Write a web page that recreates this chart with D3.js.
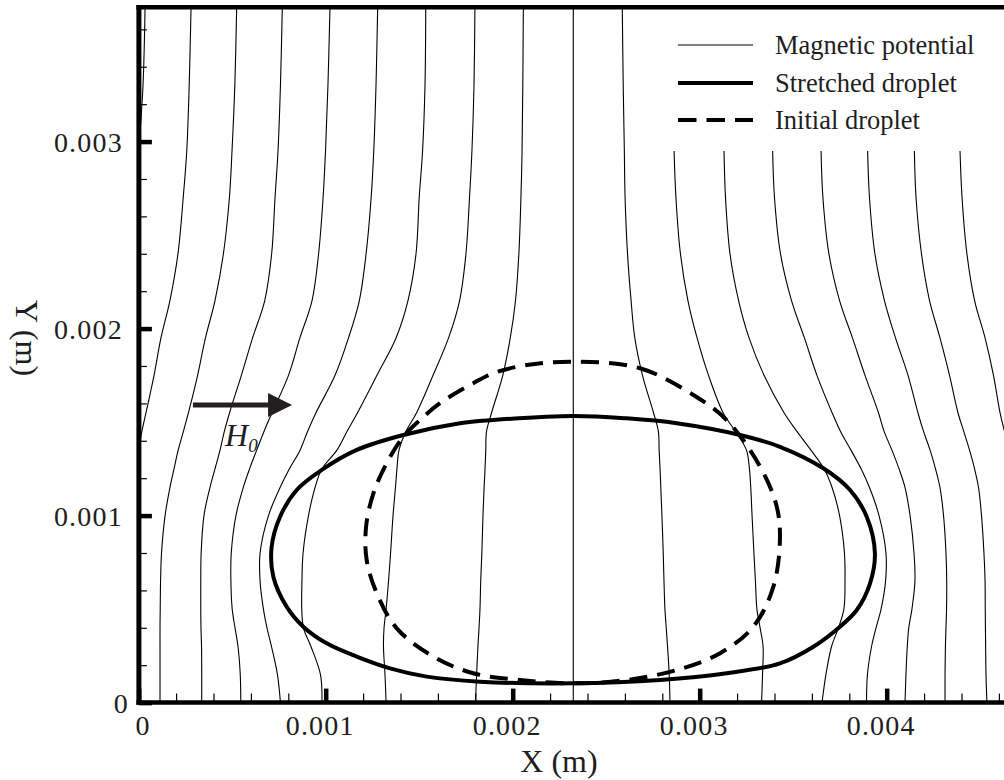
<!DOCTYPE html>
<html>
<head>
<meta charset="utf-8">
<script src="https://cdn.jsdelivr.net/npm/d3@7"></script>
<style>
  html, body { margin: 0; padding: 0; background: #fff; }
  svg { display: block; }
  text { font-family: "Liberation Serif", "Times New Roman", serif; fill: #1e1e1e; }
</style>
</head>
<body>
<svg id="chart" width="1004" height="780"></svg>
<script>
// Heights (m) at which each magnetic potential line is sampled
const levels = [0.00372, 0.0033, 0.00295, 0.0027, 0.0024, 0.00215, 0.00195, 0.00175,
  0.00155, 0.00145, 0.00135, 0.00125, 0.00115, 0.001, 0.0008, 0.00065, 0.0005,
  0.0004, 0.0003, 0.00015, 0];

// X position (m) of each potential line at the heights above (null = outside the plot)
const potentialLines = [
  [0.000034, 0.000023, 0, null, null, null, null, null, null, null, null, null, null, null, null, null, null, null, null, null, null],
  [0.000280, 0.000270, 0.000257, 0.000238, 0.000210, 0.000167, 0.000119, 0.000082, 0.000039, 0.000017, 0, null, null, null, null, null, null, null, null, null, null],
  [0.000524, 0.000514, 0.000499, 0.000485, 0.000453, 0.000408, 0.000357, 0.000315, 0.000266, 0.000239, 0.000211, 0.000189, 0.000167, 0.000141, 0.000122, 0.000117, 0.000115, 0.000114, 0.000114, 0.000114, 0.000114],
  [0.000768, 0.000758, 0.000745, 0.000729, 0.000711, 0.000674, 0.000609, 0.000549, 0.000486, 0.000458, 0.000435, 0.000408, 0.000381, 0.000349, 0.000334, 0.000332, 0.000332, 0.000333, 0.000336, 0.000337, 0.000337],
  [0.001023, 0.001012, 0.000999, 0.000986, 0.000962, 0.000927, 0.000862, 0.000801, 0.000713, 0.000670, 0.000631, 0.000593, 0.000559, 0.000520, 0.000495, 0.000493, 0.000500, 0.000515, 0.000531, 0.000543, 0.000546],
  [0.001278, 0.001269, 0.001257, 0.001243, 0.001216, 0.001180, 0.001122, 0.001050, 0.000948, 0.000903, 0.000863, 0.000806, 0.000756, 0.000694, 0.000649, 0.000649, 0.000667, 0.000686, 0.000710, 0.000742, 0.000758],
  [0.001535, 0.001531, 0.001518, 0.001500, 0.001483, 0.001440, 0.001376, 0.001274, 0.001170, 0.001114, 0.001060, 0.000980, 0.000943, 0.000908, 0.000879, 0.000873, 0.000872, 0.000881, 0.000921, 0.000972, 0.000980],
  [0.001798, 0.001793, 0.001782, 0.001769, 0.001750, 0.001716, 0.001657, 0.001574, 0.001486, 0.001429, 0.001392, 0.001381, 0.001373, 0.001360, 0.001347, 0.001336, 0.001323, 0.001312, 0.001309, 0.001317, 0.001323],
  [0.002057, 0.002054, 0.002050, 0.002044, 0.002033, 0.002015, 0.001987, 0.001947, 0.001887, 0.001860, 0.001856, 0.001852, 0.001847, 0.001841, 0.001835, 0.001829, 0.001825, 0.001820, 0.001814, 0.001807, 0.001801],
  [0.002324, 0.002324, 0.002324, 0.002324, 0.002324, 0.002324, 0.002324, 0.002324, 0.002324, 0.002324, 0.002324, 0.002324, 0.002324, 0.002324, 0.002324, 0.002324, 0.002324, 0.002324, 0.002324, 0.002324, 0.002324],
  [0.002586, 0.002591, 0.002597, 0.002601, 0.002614, 0.002633, 0.002653, 0.002694, 0.002753, 0.002779, 0.002783, 0.002788, 0.002792, 0.002798, 0.002805, 0.002809, 0.002814, 0.002821, 0.002828, 0.002837, 0.002841],
  [null, null, 0.002863, 0.002873, 0.002897, 0.002937, 0.002986, 0.003047, 0.003125, 0.003191, 0.003250, 0.003266, 0.003273, 0.003280, 0.003290, 0.003298, 0.003306, 0.003323, 0.003339, 0.003336, 0.003331],
  [null, null, 0.003130, 0.003138, 0.003162, 0.003208, 0.003264, 0.003344, 0.003451, 0.003520, 0.003595, 0.003665, 0.003708, 0.003748, 0.003774, 0.003777, 0.003771, 0.003742, 0.003705, 0.003675, 0.003654],
  [null, null, 0.003390, 0.003400, 0.003432, 0.003491, 0.003560, 0.003627, 0.003708, 0.003753, 0.003809, 0.003863, 0.003908, 0.003959, 0.003996, 0.003994, 0.003970, 0.003943, 0.003919, 0.003897, 0.003892],
  [null, null, 0.003649, 0.003659, 0.003691, 0.003748, 0.003817, 0.003884, 0.003956, 0.003986, 0.004028, 0.004066, 0.004098, 0.004125, 0.004146, 0.004151, 0.004135, 0.004118, 0.004110, 0.004103, 0.004098],
  [null, null, 0.003898, 0.003908, 0.003937, 0.003988, 0.004047, 0.004114, 0.004167, 0.004197, 0.004232, 0.004261, 0.004285, 0.004304, 0.004317, 0.004321, 0.004320, 0.004317, 0.004314, 0.004312, 0.004312],
  [null, null, 0.004148, 0.004157, 0.004186, 0.004229, 0.004285, 0.004336, 0.004381, 0.004412, 0.004443, 0.004470, 0.004491, 0.004507, 0.004520, 0.004526, 0.004527, 0.004528, 0.004529, 0.004531, 0.004536],
  [null, null, 0.004392, 0.004403, 0.004429, 0.004470, 0.004526, 0.004571, 0.004606, 0.004630, null, null, null, null, null, null, null, null, null, null, null]
];

// Droplet outlines, [x, y] in metres
const stretchedDroplet = [
  [0.002324, 0.001533], [0.002610, 0.001520], [0.002877, 0.001494], [0.003216, 0.001431],
  [0.003429, 0.001368], [0.003661, 0.001253], [0.003804, 0.001137], [0.003893, 0.000994],
  [0.003937, 0.000798], [0.003911, 0.000638], [0.003840, 0.000495], [0.003750, 0.000406],
  [0.003608, 0.000299], [0.003429, 0.000210], [0.003144, 0.000157], [0.002788, 0.000121],
  [0.002324, 0.000103], [0.001825, 0.000112], [0.001540, 0.000139], [0.001344, 0.000183],
  [0.001166, 0.000246], [0.001005, 0.000317], [0.000880, 0.000406], [0.000791, 0.000513],
  [0.000720, 0.000673], [0.000711, 0.000834], [0.000756, 0.000994], [0.000845, 0.001137],
  [0.000979, 0.001244], [0.001166, 0.001351], [0.001415, 0.001431], [0.001718, 0.001494],
  [0.001896, 0.001511]
];
const initialDroplet = [
  [0.002324, 0.001823], [0.002681, 0.001788], [0.002966, 0.001645], [0.003144, 0.001511],
  [0.003323, 0.001262], [0.003412, 0.001048], [0.003429, 0.000870], [0.003394, 0.000620],
  [0.003287, 0.000406], [0.003109, 0.000264], [0.002877, 0.000174], [0.002610, 0.000121],
  [0.002324, 0.000103], [0.002039, 0.000121], [0.001789, 0.000157], [0.001575, 0.000246],
  [0.001380, 0.000397], [0.001273, 0.000585], [0.001219, 0.000763], [0.001216, 0.000941],
  [0.001255, 0.001119], [0.001326, 0.001280], [0.001415, 0.001422], [0.001504, 0.001511],
  [0.001611, 0.001601], [0.001789, 0.001708], [0.001896, 0.001761], [0.002075, 0.001805]
];

// Applied field arrow (tail, tip) and its label anchor
const fieldArrow = [[0.000290, 0.001591], [0.000820, 0.001591]];
const fieldLabel = [0.000462, 0.001372];

const xMajorTicks = [0, 0.001, 0.002, 0.003, 0.004];
const yMajorTicks = [0, 0.001, 0.002, 0.003];
const minorStep = 0.0002;

const legendItems = ["Magnetic potential", "Stretched droplet", "Initial droplet"];

const SERIF = '"Liberation Serif", "Times New Roman", Times, serif';

// ---- scales ----
const svg = d3.select("#chart");
const W = 1004, H = 780;
const x = d3.scaleLinear().domain([0, 0.0047]).range([138.7, 1017.6]);
const y = d3.scaleLinear().domain([0, 0.003718]).range([702.6, 7.3]);

svg.append("defs").append("clipPath").attr("id", "plotClip")
  .append("rect")
  .attr("x", x(0)).attr("y", y(0.003718))
  .attr("width", W - x(0)).attr("height", y(0) - y(0.003718));

const plot = svg.append("g").attr("clip-path", "url(#plotClip)");

// ---- magnetic potential lines ----
const potLine = d3.line()
  .defined(d => d[0] !== null)
  .x(d => x(d[0])).y(d => y(d[1]))
  .curve(d3.curveCatmullRom.alpha(0.5));

plot.selectAll("path.pot")
  .data(potentialLines)
  .join("path")
  .attr("class", "pot")
  .attr("d", xs => potLine(levels.map((ly, i) => [xs[i], ly])))
  .attr("fill", "none")
  .attr("stroke", "#000")
  .attr("stroke-width", 1.1);

// ---- droplets ----
const outline = d3.line()
  .x(d => x(d[0])).y(d => y(d[1]))
  .curve(d3.curveCatmullRomClosed.alpha(0.5));

plot.append("path")
  .attr("d", outline(initialDroplet))
  .attr("fill", "none").attr("stroke", "#000")
  .attr("stroke-width", 4).attr("stroke-dasharray", "18,10");

plot.append("path")
  .attr("d", outline(stretchedDroplet))
  .attr("fill", "none").attr("stroke", "#000")
  .attr("stroke-width", 4);

// ---- field arrow ----
const [ax0, ay0] = [x(fieldArrow[0][0]), y(fieldArrow[0][1])];
const [ax1, ay1] = [x(fieldArrow[1][0]), y(fieldArrow[1][1])];
const headLen = 24, headHalf = 12;
svg.append("line")
  .attr("x1", ax0).attr("y1", ay0).attr("x2", ax1 - headLen + 1).attr("y2", ay1)
  .attr("stroke", "#231f20").attr("stroke-width", 5);
svg.append("path")
  .attr("d", `M${ax1 - headLen},${ay1 - headHalf}L${ax1},${ay1}L${ax1 - headLen},${ay1 + headHalf}Z`)
  .attr("fill", "#231f20");

const hl = svg.append("text")
  .attr("x", x(fieldLabel[0])).attr("y", y(fieldLabel[1]))
  .attr("font-family", SERIF)
  .attr("font-size", 32).attr("font-style", "italic");
hl.append("tspan").text("H");
hl.append("tspan").attr("font-size", 19).attr("dy", 6).text("0");

// ---- frame ----
const frame = svg.append("g").attr("stroke", "#000");
frame.append("line").attr("x1", 136.4).attr("x2", W).attr("y1", 7.2).attr("y2", 7.2).attr("stroke-width", 4.5);
frame.append("line").attr("x1", 136.4).attr("x2", W).attr("y1", 702.4).attr("y2", 702.4).attr("stroke-width", 4.5);
frame.append("line").attr("x1", 138.9).attr("x2", 138.9).attr("y1", 4.9).attr("y2", 704.7).attr("stroke-width", 5);

// ---- axes ----
const fmt = d => d === 0 ? "0" : d3.format(".3f")(d);
const isMajor = v => Math.abs(v * 1000 - Math.round(v * 1000)) < 1e-6;
const xMinor = d3.range(1, 24).map(i => i * minorStep).filter(v => !isMajor(v));
const yMinor = d3.range(1, 19).map(i => i * minorStep).filter(v => !isMajor(v));

const styleTicks = (g, w) => {
  g.select(".domain").remove();
  g.attr("font-family", SERIF).attr("font-size", 28);
  g.selectAll(".tick line").attr("stroke", "#000").attr("stroke-width", w);
};

svg.append("g").attr("transform", `translate(0,${y(0)})`)
  .call(d3.axisBottom(x).tickValues(xMinor).tickSize(-9).tickFormat(""))
  .call(g => styleTicks(g, 1.2));
svg.append("g").attr("transform", `translate(138.9,0)`)
  .call(d3.axisLeft(y).tickValues(yMinor).tickSize(-8).tickFormat(""))
  .call(g => styleTicks(g, 1.2));

const gx = svg.append("g").attr("transform", `translate(0,${y(0)})`)
  .call(d3.axisBottom(x).tickValues(xMajorTicks).tickSize(-14).tickPadding(13).tickFormat(fmt))
  .call(g => styleTicks(g, 4.5));
gx.selectAll(".tick text")
  .attr("x", d => d === 0 ? 4 : -6)
  .attr("font-family", SERIF).attr("fill", "#1e1e1e")
  .attr("font-size", 28).style("letter-spacing", "1.2px");

const gy = svg.append("g").attr("transform", `translate(138.9,0)`)
  .call(d3.axisLeft(y).tickValues(yMajorTicks).tickSize(-13).tickPadding(16).tickFormat(fmt))
  .call(g => styleTicks(g, 4.5));
gy.selectAll(".tick text")
  .attr("x", d => d === 0 ? -10 : -16)
  .attr("dy", "0.36em")
  .attr("font-family", SERIF).attr("fill", "#1e1e1e")
  .attr("font-size", 28).style("letter-spacing", "1.2px");

// axis titles
svg.append("text")
  .attr("x", 559).attr("y", 772)
  .attr("text-anchor", "middle").attr("font-size", 32)
  .attr("font-family", SERIF)
  .text("X (m)");
svg.append("text")
  .attr("transform", "translate(16,338) rotate(90)")
  .attr("text-anchor", "middle").attr("font-size", 32)
  .attr("font-family", SERIF)
  .text("Y (m)");

// ---- legend ----
const legendStyles = [
  { w: 1.2, dash: null },
  { w: 4, dash: null },
  { w: 4, dash: "18.5,10" }
];
const legendY = [45, 83, 120];
const lg = svg.append("g").attr("font-family", SERIF);
legendItems.forEach((label, i) => {
  lg.append("line")
    .attr("x1", 678).attr("x2", 753)
    .attr("y1", legendY[i]).attr("y2", legendY[i])
    .attr("stroke", "#000")
    .attr("stroke-width", legendStyles[i].w)
    .attr("stroke-dasharray", legendStyles[i].dash);
  lg.append("text")
    .attr("x", 775).attr("y", legendY[i] + 8.5)
    .attr("font-size", 26.5)
    .attr("font-family", SERIF)
    .text(label);
});
</script>
</body>
</html>
